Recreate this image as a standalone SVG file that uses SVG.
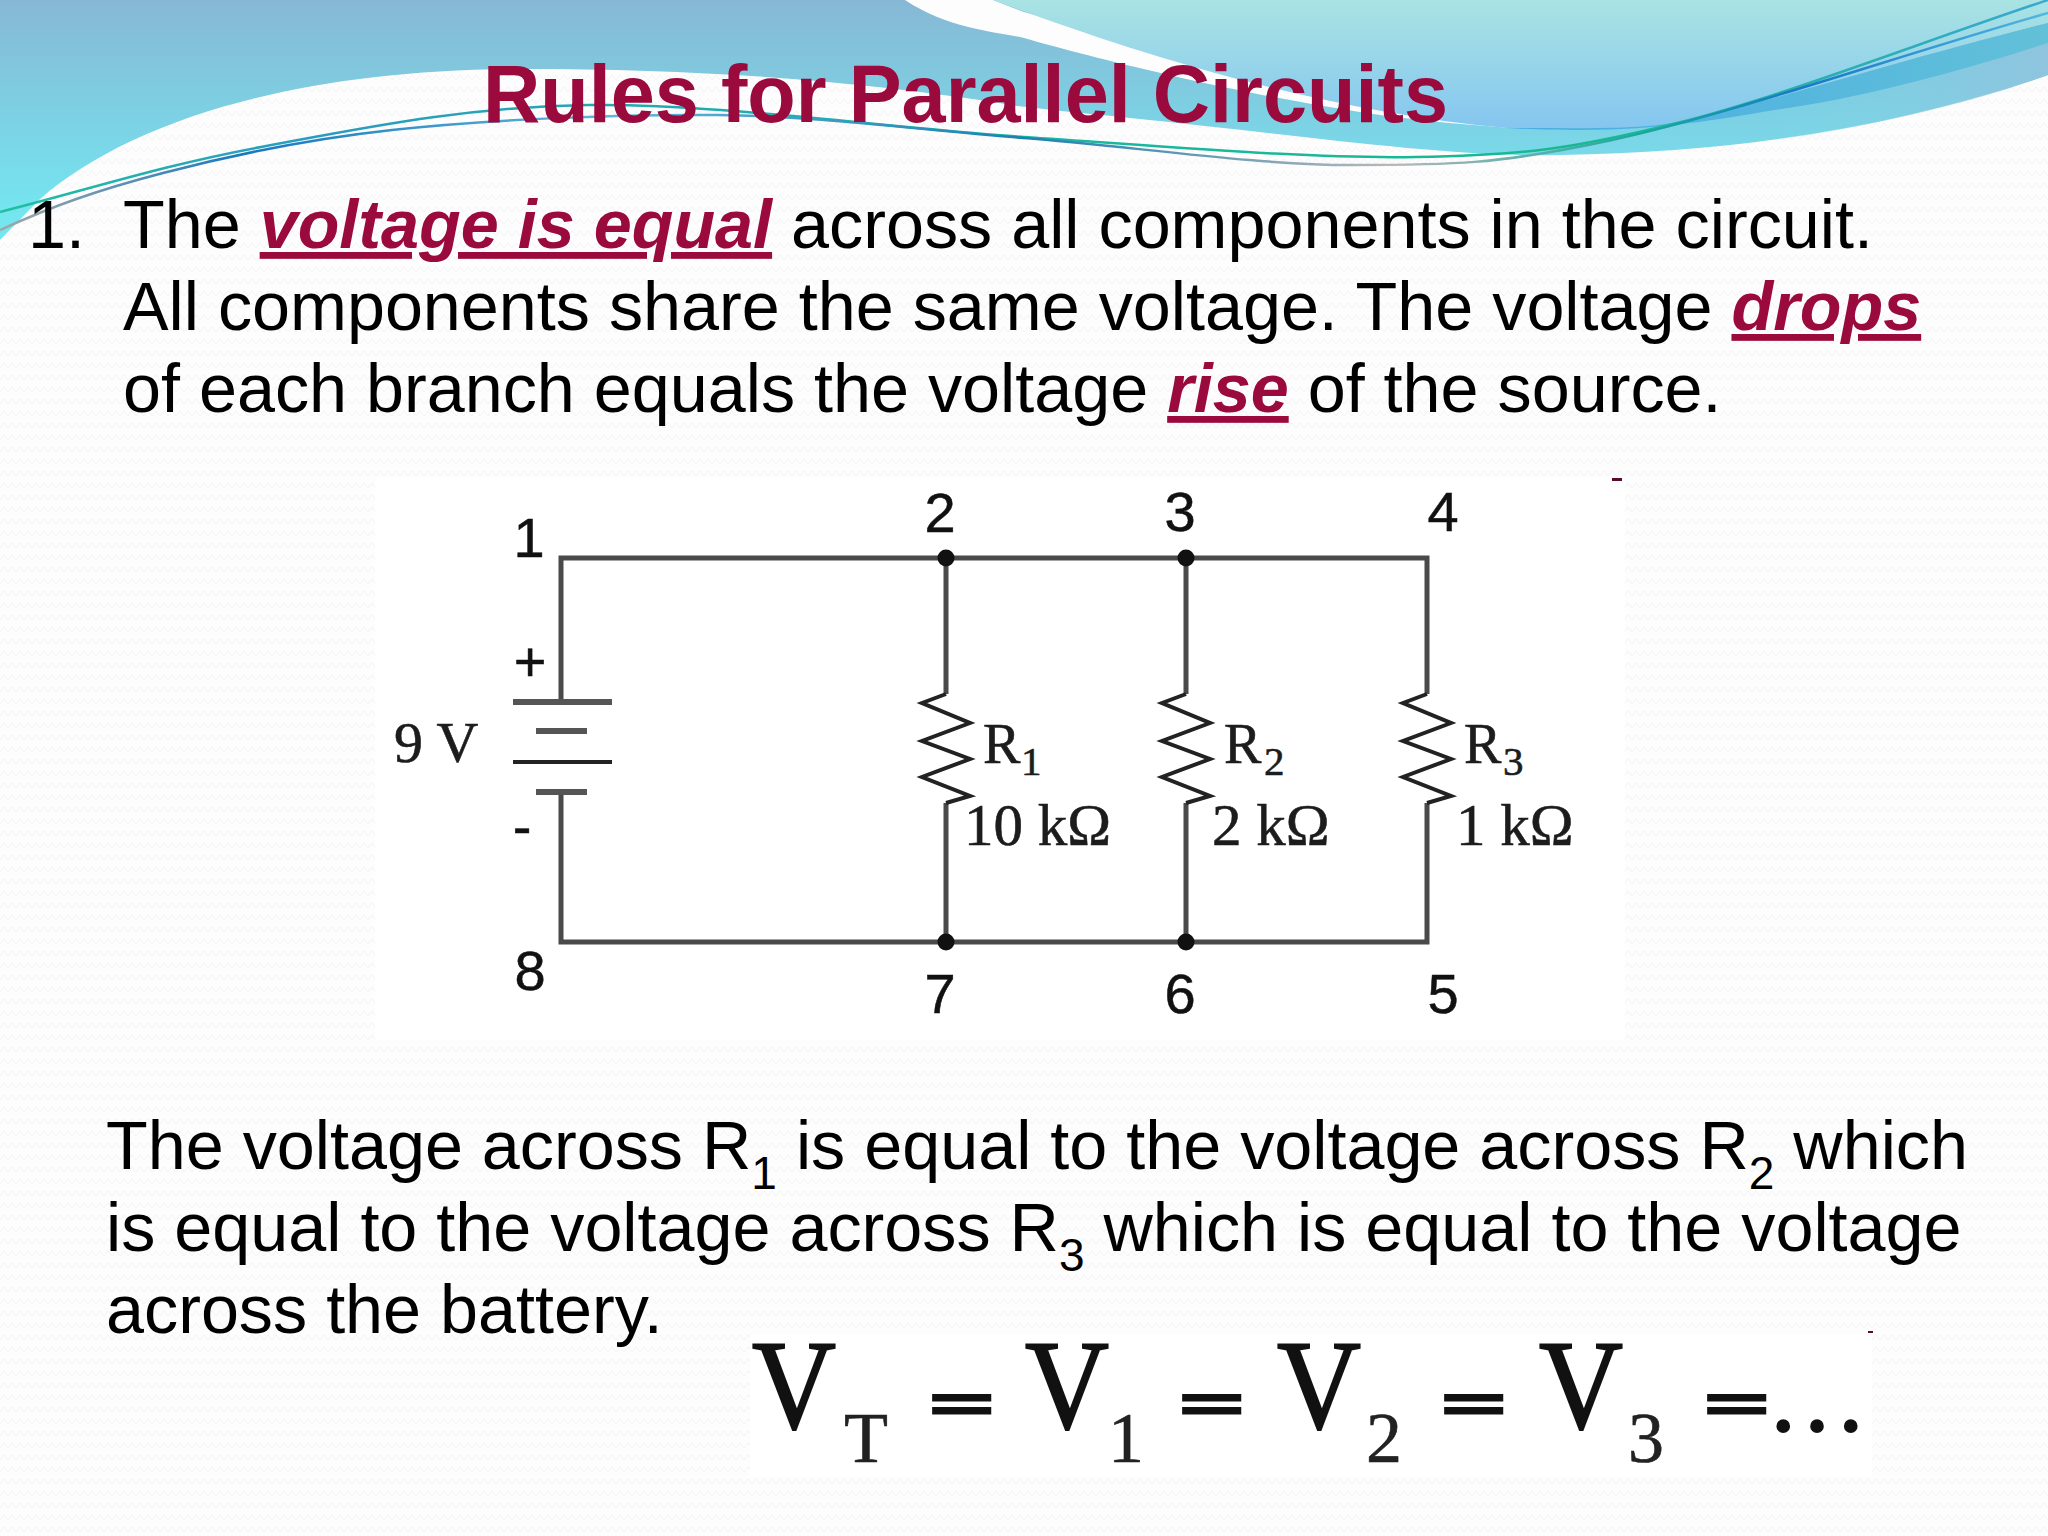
<svg xmlns="http://www.w3.org/2000/svg" width="2048" height="1536" viewBox="0 0 2048 1536">
<defs>
<linearGradient id="gMain" x1="0" y1="0" x2="0" y2="215" gradientUnits="userSpaceOnUse"><stop offset="0" stop-color="#87b8d5"/><stop offset="1" stop-color="#74e6f0"/></linearGradient>
<linearGradient id="gUp" x1="0" y1="0" x2="0" y2="128" gradientUnits="userSpaceOnUse"><stop offset="0" stop-color="#a9e3e3"/><stop offset="1" stop-color="#85c6f0"/></linearGradient>
<linearGradient id="gBand" x1="1507" y1="0" x2="2048" y2="0" gradientUnits="userSpaceOnUse"><stop offset="0" stop-color="#48ace4"/><stop offset="1" stop-color="#62c0d8"/></linearGradient>
<linearGradient id="gRight" x1="1750" y1="0" x2="2048" y2="0" gradientUnits="userSpaceOnUse"><stop offset="0" stop-color="#7ad8e8" stop-opacity="0"/><stop offset="1" stop-color="#8fc4de"/></linearGradient>
<linearGradient id="gLineA" x1="0" y1="0" x2="2048" y2="0" gradientUnits="userSpaceOnUse"><stop offset="0" stop-color="#1ec0a0"/><stop offset="0.15" stop-color="#2a9cc0"/><stop offset="0.5" stop-color="#18b8a0"/><stop offset="0.8" stop-color="#18b890"/><stop offset="1" stop-color="#3aa8d0"/></linearGradient>
<linearGradient id="gLineB" x1="0" y1="0" x2="2048" y2="0" gradientUnits="userSpaceOnUse"><stop offset="0" stop-color="#a0a8a8"/><stop offset="0.12" stop-color="#1878c0"/><stop offset="0.3" stop-color="#60b8d8"/><stop offset="0.5" stop-color="#1e80b0"/><stop offset="0.68" stop-color="#b8b8b8"/><stop offset="0.8" stop-color="#18a8a0"/><stop offset="0.88" stop-color="#1878c8"/><stop offset="1" stop-color="#50b8e0"/></linearGradient>
<pattern id="tex" width="16" height="12" patternUnits="userSpaceOnUse"><rect width="16" height="12" fill="#fdfdfe"/><path d="M0,8 L4,3 L8,8 L12,3 L16,8" fill="none" stroke="#f3f3f7" stroke-width="1"/></pattern>
</defs>
<style>
.t{font-family:"Liberation Sans",Arial,sans-serif;font-size:68.3px;fill:#000}
.em{font-weight:bold;font-style:italic;fill:#9a0a3c;text-decoration:underline}
.sub{font-size:46px}
.s{font-family:"Liberation Serif","Times New Roman",serif;fill:#1c1c1c;stroke:#1c1c1c;stroke-width:.6}
.n{font-family:"Liberation Sans",Arial,sans-serif;font-size:56px;fill:#111;stroke:#111;stroke-width:.5;text-anchor:middle}
.w{fill:none;stroke:#4a4a4a;stroke-width:5}
.z{fill:none;stroke:#222;stroke-width:4}
.v{font-family:"Liberation Serif","Times New Roman",serif;font-size:126px;fill:#111;stroke:#111;stroke-width:2}
.e{font-family:"Liberation Serif","Times New Roman",serif;font-size:66px;font-weight:bold;fill:#111;stroke:#111;stroke-width:3}
.vs{font-family:"Liberation Serif","Times New Roman",serif;font-size:72px;fill:#222;stroke:#222;stroke-width:.6}
</style>
<rect id="bg" width="2048" height="1536" fill="url(#tex)"/>
<g id="header">
<path d="M0,0 H2048 V75 C1900,125 1750,152 1560,155 C1450,158 1300,135 1130,118 C1050,110 1010,106 1000,103 C850,80 700,69 522,69 C300,69 130,120 39,200 L0,240 Z" fill="url(#gMain)"/>
<path d="M905,0 C950,30 1000,32 1024,38 C1100,60 1300,110 1449,123 L1510,128 C1350,100 1155,50 1024,12 L993,0 Z" fill="#fdfdfe"/>
<path d="M993,0 C1100,40 1300,110 1507,128 C1570,128 1640,130 1677,122 C1750,108 1900,60 2048,23 V0 Z" fill="url(#gUp)"/>
<path d="M1507,128 C1570,128 1640,130 1677,122 C1750,108 1900,60 2048,23 V43 C1950,75 1850,100 1775,110 C1700,122 1640,135 1507,128 Z" fill="url(#gBand)"/>
<path d="M1775,110 C1850,100 1950,75 2048,43 V75 C1980,100 1880,125 1780,140 Z" fill="url(#gRight)"/>
<path d="M0,212 C87,190 163,165 261,147 C359,129 461,107 588,105 C715,103 886,128 1024,137 C1162,146 1307,159 1416,157 C1525,155 1572,149 1677,123 C1782,97 1924,41 2048,0" fill="none" stroke="url(#gLineA)" stroke-width="2.5"/>
<path d="M0,230 C55,205 98,190 163,173 C228,156 300,140 392,130 C484,120 613,114 718,115 C823,116 919,130 1024,138 C1129,146 1253,165 1351,165 C1449,165 1496,165 1612,140 C1728,115 1900,55 2048,13" fill="none" stroke="url(#gLineB)" stroke-width="2.5"/>
</g>
<text id="title" x="483" y="122" font-family="Liberation Sans, Arial, sans-serif" font-weight="bold" font-size="82" fill="#9a0a3c" textLength="965" lengthAdjust="spacingAndGlyphs">Rules for Parallel Circuits</text>
<g id="rule-text">
<text class="t" x="28" y="248">1.</text>
<text class="t" x="123" y="248">The <tspan class="em">voltage is equal</tspan> across all components in the circuit.</text>
<text class="t" x="123" y="330">All components share the same voltage. The voltage <tspan class="em">drops</tspan></text>
<text class="t" x="123" y="412">of each branch equals the voltage <tspan class="em">rise</tspan> of the source.</text>
</g>
<rect id="circuit-bg" x="375" y="477" width="1250" height="563" fill="#fff"/>
<g id="connectors">
<path class="w" d="M561,702 V558 H1427 V694"/>
<path class="w" d="M561,792 V942 H1427 V803"/>
<path class="w" d="M946,558 V694 M946,803 V942 M1186,558 V694 M1186,803 V942"/>
</g>
<g id="battery">
<path d="M513,702 H612 M536,731 H587 M536,792 H587" fill="none" stroke="#555" stroke-width="6"/>
<path d="M513,762 H612" fill="none" stroke="#222" stroke-width="4"/>
<text class="s" x="394" y="762" font-size="58">9 V</text>
<text class="n" x="530" y="681">+</text>
<text class="n" x="522" y="846">-</text>
</g>
<g id="r1">
<path class="z" d="M946,694 L922,703 L970,723 L922,741 L970,759 L922,777 L970,796 L946,803"/>
<text class="s" x="983" y="763" font-size="56">R</text><text class="s" x="1021" y="775" font-size="41">1</text>
<text class="s" x="964" y="845" font-size="59">10 kΩ</text>
<circle cx="946" cy="558" r="8.5" fill="#111"/><circle cx="946" cy="942" r="8.5" fill="#111"/>
</g>
<g id="r2">
<path class="z" d="M1186,694 L1162,703 L1210,723 L1162,741 L1210,759 L1162,777 L1210,796 L1186,803"/>
<text class="s" x="1224" y="763" font-size="56">R</text><text class="s" x="1264" y="775" font-size="41">2</text>
<text class="s" x="1212" y="845" font-size="59">2 kΩ</text>
<circle cx="1186" cy="558" r="8.5" fill="#111"/><circle cx="1186" cy="942" r="8.5" fill="#111"/>
</g>
<g id="r3">
<path class="z" d="M1427,694 L1403,703 L1451,723 L1403,741 L1451,759 L1403,777 L1451,796 L1427,803"/>
<text class="s" x="1464" y="763" font-size="56">R</text><text class="s" x="1503" y="775" font-size="41">3</text>
<text class="s" x="1456" y="845" font-size="59">1 kΩ</text>
</g>
<g id="node-labels">
<text class="n" x="529" y="557">1</text><text class="n" x="940" y="532">2</text><text class="n" x="1180" y="531">3</text><text class="n" x="1443" y="531">4</text>
<text class="n" x="1443" y="1013">5</text><text class="n" x="1180" y="1013">6</text><text class="n" x="940" y="1013">7</text><text class="n" x="530" y="990">8</text>
</g>
<rect x="1612" y="478" width="10" height="3" fill="#5a0a30"/>
<g id="lower-text">
<text class="t" x="106" y="1169">The voltage across R<tspan class="sub" dy="20">1</tspan><tspan dy="-20"> is equal to the voltage across R</tspan><tspan class="sub" dy="20">2</tspan><tspan dy="-20"> which</tspan></text>
<text class="t" x="106" y="1251">is equal to the voltage across R<tspan class="sub" dy="20">3</tspan><tspan dy="-20"> which is equal to the voltage</tspan></text>
<text class="t" x="106" y="1333">across the battery.</text>
</g>
<rect id="eq-bg" x="750" y="1335" width="1122" height="142" fill="#fff"/>
<g id="equation">
<text class="v" x="752" y="1428" textLength="84" lengthAdjust="spacingAndGlyphs">V</text><text class="vs" x="844" y="1462" textLength="44" lengthAdjust="spacingAndGlyphs">T</text>
<text class="e" x="929" y="1426" textLength="66" lengthAdjust="spacingAndGlyphs">=</text>
<text class="v" x="1025" y="1428" textLength="84" lengthAdjust="spacingAndGlyphs">V</text><text class="vs" x="1108" y="1462">1</text>
<text class="e" x="1179" y="1426" textLength="66" lengthAdjust="spacingAndGlyphs">=</text>
<text class="v" x="1277" y="1428" textLength="84" lengthAdjust="spacingAndGlyphs">V</text><text class="vs" x="1366" y="1462">2</text>
<text class="e" x="1441" y="1426" textLength="66" lengthAdjust="spacingAndGlyphs">=</text>
<text class="v" x="1539" y="1428" textLength="84" lengthAdjust="spacingAndGlyphs">V</text><text class="vs" x="1628" y="1462">3</text>
<text class="e" x="1704" y="1426" textLength="66" lengthAdjust="spacingAndGlyphs">=</text>
<text class="e" x="1775" y="1431" font-size="72" textLength="84" lengthAdjust="spacing">...</text>
</g>
<rect x="1868" y="1331" width="5" height="2" fill="#5a0a30"/>
</svg>
